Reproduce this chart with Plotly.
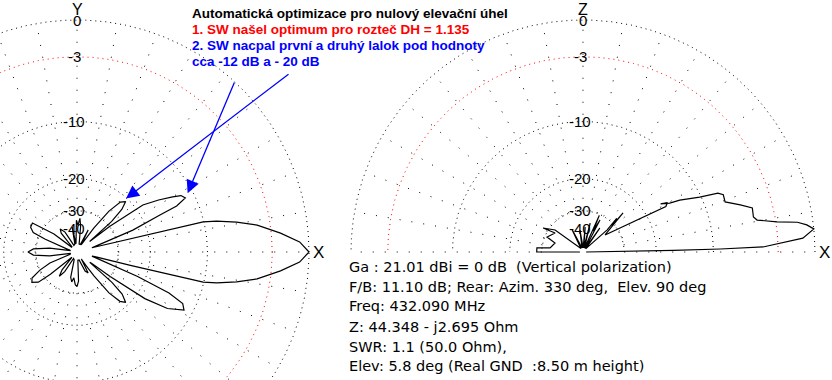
import numpy as np
import plotly.graph_objects as go

# ---------------- data ----------------
# Horizontal (azimuth) pattern: angle in degrees CCW from X, gain in dB
AZ_DEG = [0, 2.6, 5.3, 8.5, 10.6, 12.5, 13.4, 14.0, 14.3, 16.0,
          17.0, 21.4, 24.0, 24.8, 26.5, 28.5, 30.0, 32.5, 35.5, 38.0, 39.5,
          41.5, 43.5, 46.0, 49.0, 52.0, 55.0, 57.0,
          60, 63, 66,
          75, 82, 85, 88, 91, 94,
          97, 101, 105,
          115, 121, 126, 130, 134,
          138, 142, 145, 147, 152, 156, 158, 161,
          168, 172, 176, 180, 184, 188, 192,
          199, 202, 206, 210, 214, 218, 220, 223,
          226, 230, 234, 238, 242,
          250, 256, 260, 263, 267, 270, 273, 276,
          285, 293, 298, 302,
          303.5, 305.5, 308, 311, 314, 317, 319, 321,
          322, 323.5, 325.5, 328, 331.5, 334, 336, 338, 343,
          344.5, 345.7, 346.0, 346.6, 347.5, 349.4, 351.5, 354.7, 357.4, 360]
AZ_DB = [0, -0.7, -2.2, -4.2, -6.2, -8.4, -10.1, -25, -44, -47,
         -44, -23.5, -16.3, -13.0, -11.3, -11.7, -12.9, -15.2, -18.3, -30, -46,
         -28, -23, -20.8, -21.8, -26, -36, -50,
         -58, -39, -58,
         -58, -38, -33.5, -37.5, -34.5, -58,
         -58, -38.5, -58,
         -60, -40, -36.4, -39, -60,
         -60, -36, -30, -25.6, -25.8, -27.4, -33, -60,
         -62, -37, -29, -27, -29, -37, -62,
         -60, -36, -30, -26, -25.2, -27, -33, -60,
         -60, -40, -35.5, -40, -60,
         -58, -38, -35.3, -38, -34, -33, -36, -58,
         -58, -42, -39.6, -58,
         -46, -36, -26, -22, -20.8, -23, -28, -46,
         -44, -30, -18, -13.5, -11.2, -11.8, -14.5, -22, -44,
         -47, -44, -25, -10.1, -8.4, -6.2, -4.2, -2.2, -0.7, 0]

# Vertical (elevation) pattern: elevation angle in degrees, gain in dB
EL_DEG = [0, 0.6, 1.0, 1.25, 1.6, 3.6, 5.7, 6.9, 7.9, 8.8, 10.4, 11.6, 14.6, 16.7,
          19.4, 22.2, 23.6, 25.2, 28.2, 29.4, 31.8, 30.3, 28.8, 37.7, 44.3, 42.0,
          45.0, 42.5, 50, 55, 58, 62, 64, 66, 69, 76, 80, 85, 88, 98, 103, 116, 120,
          141.8, 149, 145.8, 157.4, 162.2, 173, 175, 178.8, 180, 180]
EL_DB = [-75, -29, -16.4, -9.1, -4.4, -0.9, 0, -0.5, -1.2, -2.9, -4.7, -5.0, -4.9, -6.0,
         -7.5, -7.4, -7.9, -10.2, -13.0, -14.7, -16.2, -15.0, -15.6, -36.8, -24.7, -31,
         -27.5, -34, -70, -36, -70, -32.3, -40, -30.5, -70, -35.7, -70, -38.7, -70, -40.9,
         -70, -39, -70,
         -32.6, -27.9, -33.5, -31, -35.9, -33.8, -28, -28.1, -28, -75]

GRID_DB = [0, -3, -10, -20, -30]
LABEL_DB = [0, -3, -10, -20, -30, -40]
LABEL_TXT = ["0", "-3", "-10", "-20", "-30", "-40"]

INFO_LINES = [
    "Ga : 21.01 dBi = 0 dB\u00a0\u00a0(Vertical polarization)",
    "F/B: 11.10 dB; Rear: Azim. 330 deg,\u00a0\u00a0Elev. 90 deg",
    "Freq: 432.090 MHz",
    "Z: 44.348 - j2.695 Ohm",
    "SWR: 1.1 (50.0 Ohm),",
    "Elev: 5.8 deg (Real GND\u00a0\u00a0:8.50 m height)",
]
NOTE_LINES = [
    "Automatická optimizace pro nulový elevační úhel",
    "1. SW našel optimum pro rozteč DH = 1.135",
    "2. SW nacpal první a druhý lalok pod hodnoty",
    "cca -12 dB a - 20 dB",
]
NOTE_COLORS = ["#000000", "#ff0000", "#0000ff", "#0000ff"]

# ---------------- geometry / layout ----------------
W, H = 832, 380
RPX = 232.0                     # pixels per unit radius
CXL_PX, CY_PX = 77.0, 252.0     # left plot centre (pixels)
CXR = (583.0 - CXL_PX) / RPX    # right plot centre in axis units
FONT = "Liberation Sans, Arial, sans-serif"
INFO_FONT = "DejaVu Sans, Verdana, sans-serif"


def rad(db):
    return 10 ** (np.asarray(db, dtype=float) / 40.0)


def to_xy(deg, db, cx=0.0):
    a = np.radians(np.asarray(deg, dtype=float))
    r = rad(db)
    return cx + r * np.cos(a), r * np.sin(a)


fig = go.Figure()

# grid circles
for cx, span in ((0.0, 360), (CXR, 180)):
    th = np.linspace(0, span, span * 3 + 1)
    for lvl in GRID_DB:
        x, y = to_xy(th, np.full_like(th, lvl), cx)
        fig.add_trace(go.Scatter(
            x=x, y=y, mode="lines", hoverinfo="skip",
            line=dict(color="#ff0000" if lvl == -3 else "#000000", width=1, dash="1px,4px")))
    # radial lines every 10 degrees
    xs, ys = [], []
    for a in range(0, span + 1 if span == 180 else span, 10):
        x, y = to_xy([a, a], [GRID_DB[-1], 0], cx)
        xs += list(x) + [None]
        ys += list(y) + [None]
    fig.add_trace(go.Scatter(x=xs, y=ys, mode="lines", hoverinfo="skip",
                             line=dict(color="#000000", width=1, dash="1px,11px")))

# patterns
ax_, ay_ = to_xy(AZ_DEG, AZ_DB, 0.0)
fig.add_trace(go.Scatter(x=ax_, y=ay_, mode="lines", line=dict(color="#000000", width=1.2)))
ex_, ey_ = to_xy(EL_DEG, EL_DB, CXR)
fig.add_trace(go.Scatter(x=ex_, y=ey_, mode="lines", line=dict(color="#000000", width=1.2)))

ann = []
# dB labels
for cx in (0.0, CXR):
    for lvl, txt in zip(LABEL_DB, LABEL_TXT):
        ann.append(dict(x=cx, y=float(rad(lvl)), xref="x", yref="y", text=txt, showarrow=False,
                        xshift=-3 if lvl < 0 else 0, font=dict(family=FONT, size=15, color="#000"),
                        borderpad=0))
# axis letters
for cx, letter in ((0.0, "Y"), (CXR, "Z")):
    ann.append(dict(x=cx, y=1 - 0.5 / H, xref="x", yref="paper", text=letter, showarrow=False,
                    yanchor="top", font=dict(family=FONT, size=16, color="#000"), borderpad=0))
    ann.append(dict(x=cx + 1.04, y=0, xref="x", yref="y", text="X", showarrow=False,
                    font=dict(family=FONT, size=17, color="#000"), borderpad=0))

# info text
INFO_Y = [266.7, 286.5, 306.3, 326.5, 346.5, 366.3]
for t, yp in zip(INFO_LINES, INFO_Y):
    ann.append(dict(x=348.0 / W, y=1 - yp / H, xref="paper", yref="paper", text=t,
                    showarrow=False, xanchor="left", yanchor="middle", borderpad=0,
                    font=dict(family=INFO_FONT, size=14.5, color="#000")))

# notes
NOTE_Y = [13.3, 29.3, 45.2, 61.2]
for t, c, yp in zip(NOTE_LINES, NOTE_COLORS, NOTE_Y):
    ann.append(dict(x=191.0 / W, y=1 - yp / H, xref="paper", yref="paper",
                    text="<b>" + t + "</b>", showarrow=False, xanchor="left", yanchor="middle",
                    borderpad=0, font=dict(family=FONT, size=13.5, color=c)))

# arrows pointing at the two sidelobes (tips from the pattern peaks)
az_deg = np.asarray(AZ_DEG); az_db = np.asarray(AZ_DB)
tails = [((235 - CXL_PX) / RPX, (CY_PX - 81) / RPX), ((290 - CXL_PX) / RPX, (CY_PX - 73) / RPX)]
for (lo, hi), (tx, ty) in zip(((20, 38), (40, 56)), tails):
    m = (az_deg > lo) & (az_deg < hi)
    i = np.argmax(np.where(m, az_db, -999))
    px, py = to_xy([az_deg[i] + 1.5], [az_db[i] + 0.6], 0.0)
    ann.append(dict(x=float(px[0]), y=float(py[0]), xref="x", yref="y", ax=tx, ay=ty,
                    axref="x", ayref="y", text="", showarrow=True, arrowhead=2,
                    arrowsize=2, arrowwidth=1.3, arrowcolor="#0000ff"))

fig.update_layout(
    width=W, height=H, margin=dict(l=0, r=0, t=0, b=0),
    paper_bgcolor="white", plot_bgcolor="white", showlegend=False,
    xaxis=dict(range=[-CXL_PX / RPX, (W - CXL_PX) / RPX], visible=False, fixedrange=True),
    yaxis=dict(range=[-(H - CY_PX) / RPX, CY_PX / RPX], visible=False, fixedrange=True),
    annotations=ann,
)
fig.write_html("out.html", config={"displayModeBar": False},
               post_script="document.body.style.margin='0';document.body.style.overflow='hidden';")
